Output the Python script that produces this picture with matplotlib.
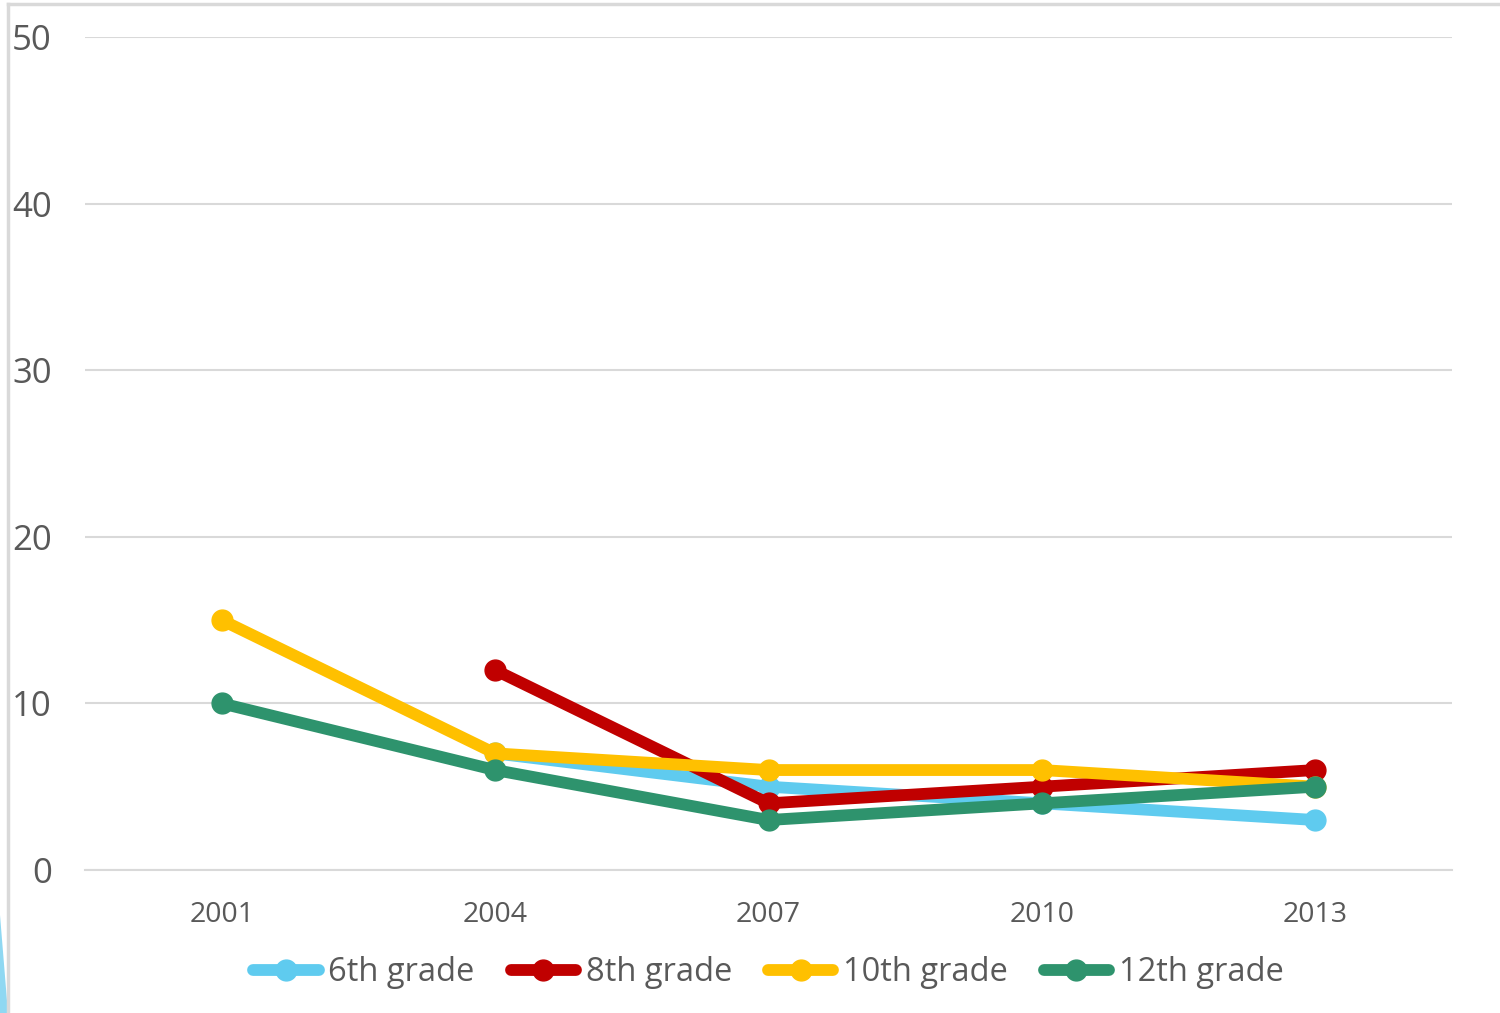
import numpy as np
import matplotlib.pyplot as plt
from matplotlib.lines import Line2D
from matplotlib.patches import Polygon

years = ["2001", "2004", "2007", "2010", "2013"]
grade6 = [np.nan, 7, 5, 4, 3]
grade8 = [np.nan, 12, 4, 5, 6]
grade10 = [15, 7, 6, 6, 5]
grade12 = [10, 6, 3, 4, 5]

series = [
    ("6th grade", grade6, "#5FCBEF"),
    ("8th grade", grade8, "#C00000"),
    ("10th grade", grade10, "#FFC000"),
    ("12th grade", grade12, "#2E936D"),
]

plt.rcParams['font.family'] = ['Open Sans', 'DejaVu Sans']

fig = plt.figure(figsize=(15, 10.13), dpi=100)
ax = fig.add_axes([85/1500, 1 - 870/1013, (1452-85)/1500, (870-37)/1013])

x = np.arange(len(years))
for name, vals, col in series:
    ax.plot(x, vals, color=col, lw=8.5, marker='o', markersize=15,
            label=name, solid_capstyle='round', solid_joinstyle='round')

ax.set_xlim(-0.5, 4.5)
ax.set_ylim(0, 50)
ax.set_yticks(range(0, 51, 10))
ax.set_xticks(x)
ax.set_xticklabels(years)
ax.yaxis.grid(True, color="#D9D9D9", lw=1.5)
ax.set_axisbelow(True)
for s in ["top", "right", "left"]:
    ax.spines[s].set_visible(False)
ax.spines["bottom"].set_color("#D9D9D9")
ax.spines["bottom"].set_linewidth(1.5)
ax.tick_params(axis='both', length=0, colors="#595959")
ax.tick_params(axis='y', labelsize=25, pad=24)
ax.tick_params(axis='x', labelsize=20.5, pad=22)

leg = ax.legend(loc='upper center', bbox_to_anchor=(0.5, -0.068), ncol=4,
                frameon=False, fontsize=23.5, handlelength=2.0, handletextpad=0.3,
                columnspacing=1.1, labelcolor="#595959")

# frame and decoration around the slide
fig.add_artist(Line2D([8/1500, 8/1500], [0, 1 - 4/1013], transform=fig.transFigure,
                      color="#D9D9D9", lw=2.5))
fig.add_artist(Line2D([8/1500, 1], [1 - 4/1013, 1 - 4/1013], transform=fig.transFigure,
                      color="#D9D9D9", lw=2.5))
fig.add_artist(Polygon([[0, 1 - 915/1013], [8/1500, 0], [0, 0]], closed=True,
                       transform=fig.transFigure, color="#8FD8F2", lw=0))

fig.savefig("out.png", dpi=100)
